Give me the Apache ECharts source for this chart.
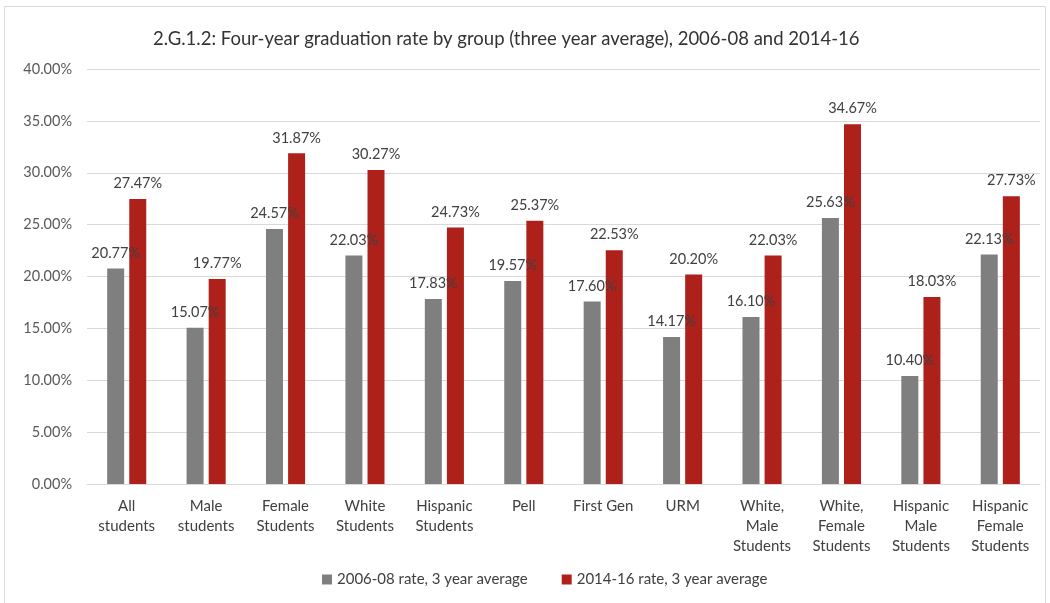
<!DOCTYPE html>
<html><head><meta charset="utf-8">
<script src="https://cdn.jsdelivr.net/npm/echarts@6/dist/echarts.min.js"></script>
<style>html,body{margin:0;padding:0;background:#fff}#c{width:1050px;height:603px}</style>
</head><body><div id="c"></div>
<script>
const categories = ["All\nstudents","Male\nstudents","Female\nStudents","White\nStudents","Hispanic\nStudents","Pell","First Gen","URM","White,\nMale\nStudents","White,\nFemale\nStudents","Hispanic\nMale\nStudents","Hispanic\nFemale\nStudents"];
const rate2006 = [20.77,15.07,24.57,22.03,17.83,19.57,17.60,14.17,16.10,25.63,10.40,22.13];
const rate2014 = [27.47,19.77,31.87,30.27,24.73,25.37,22.53,20.20,22.03,34.67,18.03,27.73];
const seriesNames = ["2006-08 rate, 3 year average","2014-16 rate, 3 year average"];
const titleText = "2.G.1.2: Four-year graduation rate by group (three year average), 2006-08 and 2014-16";

const FONT = "Lato, 'Open Sans', sans-serif";
const chart = echarts.init(document.getElementById('c'), null, {renderer:'canvas'});
const lbl = {show:true, position:'top', distance:8, color:'#404040', fontSize:14.5, fontFamily:FONT,
  formatter: p => p.value.toFixed(2) + '%'};
chart.setOption({
  animation:false,
  backgroundColor:'#fff',
  title:{text:titleText, left:148, top:25, textStyle:{fontFamily:FONT, fontSize:18.5, fontWeight:'normal', color:'#333'}},
  grid:{left:87, right:10, top:69, bottom:119},
  legend:{bottom:11, left:317, itemWidth:10, itemHeight:10, itemGap:34, icon:'rect',
    textStyle:{fontFamily:FONT, fontSize:15, color:'#404040'}},
  xAxis:{type:'category', data:categories,
    axisLine:{lineStyle:{color:'#d9d9d9'}}, axisTick:{show:false},
    axisLabel:{color:'#404040', fontSize:15, fontFamily:FONT, lineHeight:20, margin:12, interval:0}},
  yAxis:{type:'value', min:0, max:40, interval:5,
    axisLabel:{formatter: v => v.toFixed(2) + '%', color:'#595959', fontSize:14.5, fontFamily:FONT, margin:15},
    splitLine:{lineStyle:{color:'#d9d9d9'}}, axisLine:{show:false}, axisTick:{show:false}},
  graphic:[{type:'rect', shape:{x:4.5, y:6.5, width:1041, height:610}, style:{fill:null, stroke:'#d9d9d9', lineWidth:1}, silent:true, z:-1}],
  series:[
    {name:seriesNames[0], type:'bar', data:rate2006, barWidth:17, barGap:'30%', itemStyle:{color:'#7f7f7f'}, label:lbl},
    {name:seriesNames[1], type:'bar', data:rate2014, barWidth:17, barGap:'30%', itemStyle:{color:'#ae211b'}, label:lbl}
  ]
});
</script></body></html>
